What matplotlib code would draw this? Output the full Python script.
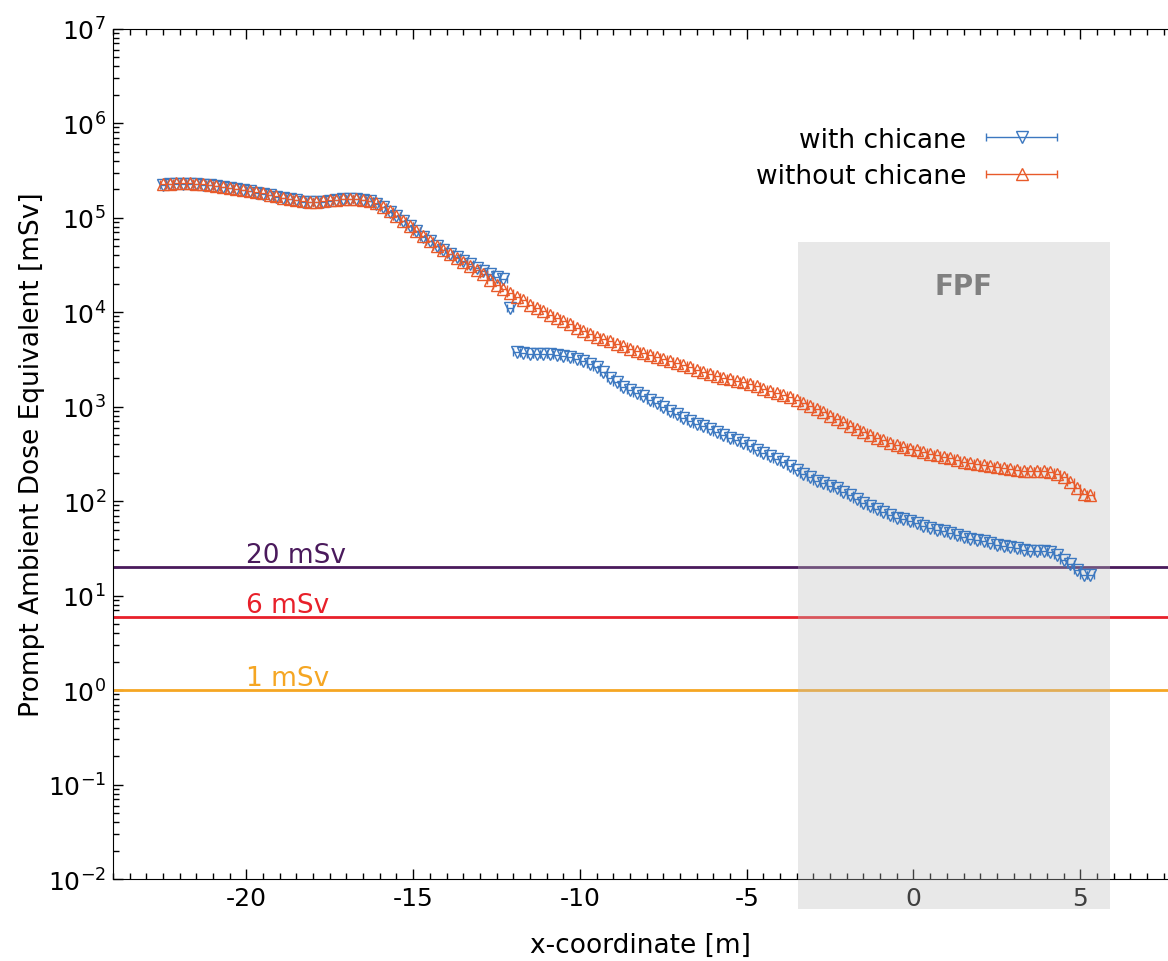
import numpy as np
import matplotlib
matplotlib.use("Agg")
import matplotlib.pyplot as plt
from matplotlib.patches import Rectangle
from matplotlib.ticker import MultipleLocator, LogLocator
from matplotlib.container import ErrorbarContainer
from matplotlib.legend_handler import HandlerErrorbar

plt.rcParams["axes.unicode_minus"] = False

# bin centres along the beam line [m], 0.2 m bins
x_centres = np.round(np.arange(-22.5, 5.31, 0.2), 1)
bin_halfwidth = 0.1

without_chicane = [
    2.25e5, 2.28e5, 2.3e5, 2.3e5, 2.3e5, 2.28e5, 2.25e5, 2.2e5, 2.15e5, 2.1e5,
    2.06e5, 2.0e5, 1.96e5, 1.92e5, 1.86e5, 1.8e5, 1.74e5, 1.68e5, 1.62e5, 1.57e5,
    1.53e5, 1.49e5, 1.47e5, 1.47e5, 1.49e5, 1.52e5, 1.55e5, 1.57e5, 1.58e5, 1.58e5,
    1.55e5, 1.5e5, 1.42e5, 1.3e5, 1.17e5, 1.04e5, 9.2e4, 8.2e4, 7.3e4, 6.4e4,
    5.6e4, 5.0e4, 4.5e4, 4.1e4, 3.7e4, 3.4e4, 3.1e4, 2.8e4, 2.5e4, 2.2e4,
    1.95e4, 1.75e4, 1.6e4, 1.45e4, 1.33e4, 1.2e4, 1.1e4, 1.02e4, 9.4e3, 8.7e3,
    8.0e3, 7.4e3, 6.8e3, 6.3e3, 5.9e3, 5.5e3, 5.2e3, 4.9e3, 4.6e3, 4.35e3,
    4.1e3, 3.85e3, 3.65e3, 3.5e3, 3.35e3, 3.2e3, 3.05e3, 2.9e3, 2.75e3, 2.6e3,
    2.45e3, 2.32e3, 2.2e3, 2.1e3, 2.02e3, 1.95e3, 1.87e3, 1.8e3, 1.72e3, 1.64e3,
    1.55e3, 1.47e3, 1.4e3, 1.33e3, 1.26e3, 1.18e3, 1.1e3, 1.02e3, 9.4e2, 8.7e2,
    8.0e2, 7.4e2, 6.8e2, 6.3e2, 5.8e2, 5.4e2, 5.0e2, 4.7e2, 4.4e2, 4.15e2,
    3.9e2, 3.7e2, 3.55e2, 3.45e2, 3.3e2, 3.15e2, 3.05e2, 2.95e2, 2.85e2, 2.72e2,
    2.62e2, 2.53e2, 2.46e2, 2.4e2, 2.33e2, 2.27e2, 2.22e2, 2.17e2, 2.13e2, 2.1e2,
    2.08e2, 2.08e2, 2.08e2, 2.05e2, 1.95e2, 1.8e2, 1.6e2, 1.38e2, 1.18e2, 1.15e2,
]

with_chicane = [
    2.22e5, 2.26e5, 2.28e5, 2.29e5, 2.28e5, 2.26e5, 2.23e5, 2.19e5, 2.14e5, 2.09e5,
    2.05e5, 1.99e5, 1.95e5, 1.9e5, 1.84e5, 1.78e5, 1.72e5, 1.66e5, 1.61e5, 1.56e5,
    1.52e5, 1.48e5, 1.46e5, 1.46e5, 1.48e5, 1.51e5, 1.54e5, 1.56e5, 1.57e5, 1.57e5,
    1.54e5, 1.49e5, 1.41e5, 1.29e5, 1.16e5, 1.03e5, 9.1e4, 8.1e4, 7.2e4, 6.3e4,
    5.6e4, 5.0e4, 4.5e4, 4.1e4, 3.8e4, 3.5e4, 3.2e4, 2.95e4, 2.75e4, 2.55e4,
    2.35e4, 2.25e4, 1.1e4, 3.8e3, 3.65e3, 3.6e3, 3.6e3, 3.6e3, 3.6e3, 3.55e3,
    3.45e3, 3.35e3, 3.2e3, 3.05e3, 2.85e3, 2.6e3, 2.3e3, 2.0e3, 1.8e3, 1.62e3,
    1.5e3, 1.38e3, 1.28e3, 1.18e3, 1.08e3, 9.8e2, 9.0e2, 8.3e2, 7.6e2, 7.1e2,
    6.6e2, 6.2e2, 5.8e2, 5.4e2, 5.0e2, 4.7e2, 4.4e2, 4.1e2, 3.8e2, 3.5e2,
    3.25e2, 3.0e2, 2.8e2, 2.6e2, 2.35e2, 2.15e2, 1.95e2, 1.8e2, 1.65e2, 1.55e2,
    1.45e2, 1.38e2, 1.25e2, 1.15e2, 1.05e2, 9.6e1, 8.9e1, 8.2e1, 7.6e1, 7.1e1,
    6.7e1, 6.4e1, 6.1e1, 5.8e1, 5.5e1, 5.2e1, 5.0e1, 4.8e1, 4.6e1, 4.4e1,
    4.2e1, 4.0e1, 3.9e1, 3.75e1, 3.6e1, 3.45e1, 3.35e1, 3.25e1, 3.15e1, 3.0e1,
    2.95e1, 2.95e1, 2.95e1, 2.9e1, 2.7e1, 2.4e1, 2.15e1, 1.85e1, 1.65e1, 1.65e1,
]

limit_values = [20, 6, 1]
limit_labels = ["20 mSv", "6 mSv", "1 mSv"]
limit_colors = ["#4a1a5c", "#e8202a", "#f5a623"]

fpf_range = (-3.45, 5.9)

blue = "#3c78c0"
orange = "#e85a2a"

fig = plt.figure(figsize=(11.68, 9.62), dpi=100)
ax = fig.add_axes([0.0967, 0.0852, 0.9033, 0.884])

# FPF region: translucent grey drawn over spine / tick labels, extends below the axis
ax.add_patch(Rectangle((fpf_range[0], 10**-2.32), fpf_range[1] - fpf_range[0],
                       10**4.74 - 10**-2.32, facecolor="#bcbcbc", alpha=0.34,
                       edgecolor="none", zorder=2.7, clip_on=False))
ax.text(1.5, 10**4.28, "FPF", color="#808080", fontsize=20,
        fontweight="bold", ha="center", va="center", zorder=4)

ax.errorbar(x_centres, with_chicane, xerr=bin_halfwidth, fmt="v", color=blue,
            mfc="none", mec=blue, ms=8.5, mew=1.0, elinewidth=1.0, capsize=3,
            label="with chicane", zorder=3)
ax.errorbar(x_centres, without_chicane, xerr=bin_halfwidth, fmt="^", color=orange,
            mfc="none", mec=orange, ms=8.5, mew=1.0, elinewidth=1.0, capsize=3,
            label="without chicane", zorder=3)

for val, lab, col in zip(limit_values, limit_labels, limit_colors):
    ax.axhline(val, color=col, lw=2, zorder=2)
    ax.text(-20, val * 1.13, lab, color=col, fontsize=19, ha="left", va="baseline")

ax.set_yscale("log")
ax.set_ylim(1e-2, 1e7)
ax.set_xlim(-24, 7.63)
ax.xaxis.set_major_locator(MultipleLocator(5))
ax.xaxis.set_minor_locator(MultipleLocator(0.5))
ax.yaxis.set_major_locator(LogLocator(base=10, numticks=20))
ax.yaxis.set_minor_locator(LogLocator(base=10, subs=np.arange(2, 10), numticks=20))

ax.tick_params(which="both", direction="in", top=True, right=False)
ax.tick_params(which="major", length=7, width=1)
ax.tick_params(which="minor", length=4, width=1)
ax.tick_params(axis="x", labelsize=18, pad=5)
ax.tick_params(axis="y", labelsize=18, pad=5)
ax.spines["right"].set_visible(False)

ax.set_xlabel("x-coordinate [m]", fontsize=19, labelpad=16)
ax.set_ylabel("Prompt Ambient Dose Equivalent [mSv]", fontsize=19, labelpad=2)

ax.legend(loc="upper right", bbox_to_anchor=(1069 / 1168, 1 - 117 / 962),
          bbox_transform=fig.transFigure, frameon=False, markerfirst=False,
          numpoints=1, fontsize=19, handlelength=2.8, handletextpad=0.7,
          labelspacing=0.4, borderaxespad=0,
          handler_map={ErrorbarContainer: HandlerErrorbar(xerr_size=1.35)})

fig.savefig("out.png", dpi=100)
